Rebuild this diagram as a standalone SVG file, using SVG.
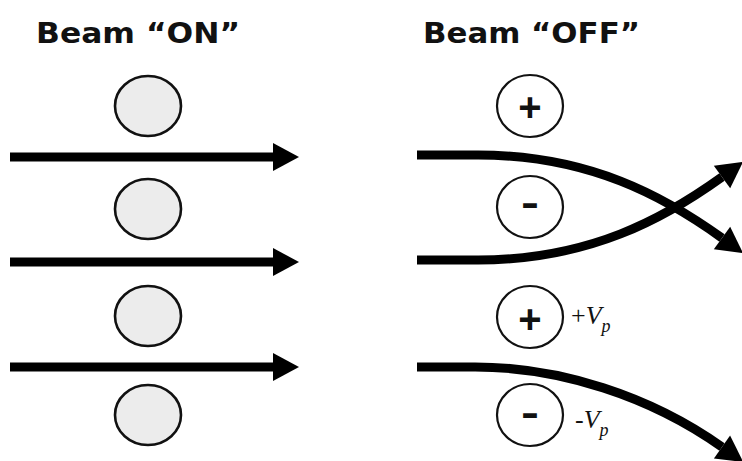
<svg xmlns="http://www.w3.org/2000/svg" width="742" height="461" viewBox="0 0 742 461">
<style>
.title{font-family:"DejaVu Sans","Liberation Sans",sans-serif;font-weight:bold;font-size:29px;fill:#111}
.dis{fill:#ececec;stroke:#111;stroke-width:2.6}
.pol{fill:#fff;stroke:#111;stroke-width:2.2}
.sign{font-family:"Liberation Sans",sans-serif;font-weight:bold;font-size:40px;fill:#111;text-anchor:middle}
.beam{fill:none;stroke:#000;stroke-width:9}
.vp{font-family:"Liberation Serif",serif;font-size:26px;fill:#111}
</style>
<defs>
<marker id="ah" markerUnits="userSpaceOnUse" markerWidth="30" markerHeight="32" refX="0" refY="15" orient="auto" viewBox="0 0 30 30" overflow="visible">
<path d="M0,1 L26,15 L0,29 Z" fill="#000"/>
</marker>
</defs>
<rect width="742" height="461" fill="#fff"/>
<g id="title-on"><text class="title" x="36" y="43" textLength="204" lengthAdjust="spacingAndGlyphs">Beam “ON”</text></g>
<g id="title-off"><text class="title" x="423" y="43" textLength="217" lengthAdjust="spacingAndGlyphs">Beam “OFF”</text></g>
<g id="on-disc-1"><ellipse class="dis" cx="148" cy="106" rx="33" ry="30"/></g>
<g id="on-disc-2"><ellipse class="dis" cx="148" cy="209" rx="33" ry="30"/></g>
<g id="on-disc-3"><ellipse class="dis" cx="148" cy="316" rx="33" ry="30"/></g>
<g id="on-disc-4"><ellipse class="dis" cx="148" cy="415" rx="33" ry="30"/></g>
<g id="off-plus-1"><ellipse class="pol" cx="530" cy="106" rx="33" ry="31"/><text class="sign" x="530" y="121">+</text></g>
<g id="off-minus-1"><ellipse class="pol" cx="530" cy="207" rx="33" ry="31"/><text class="sign" x="521" y="215.5" text-anchor="start" textLength="18" lengthAdjust="spacingAndGlyphs" style="text-anchor:start">-</text></g>
<g id="off-plus-2"><ellipse class="pol" cx="530" cy="317" rx="33" ry="31"/><text class="sign" x="530" y="333">+</text>
<text class="vp" x="571" y="324">+<tspan font-style="italic">V</tspan><tspan font-style="italic" font-size="18" dy="8">p</tspan></text></g>
<g id="off-minus-2"><ellipse class="pol" cx="530" cy="415" rx="33" ry="31"/><text class="sign" x="521" y="425.5" textLength="18" lengthAdjust="spacingAndGlyphs" style="text-anchor:start">-</text>
<text class="vp" x="575" y="428">-<tspan font-style="italic">V</tspan><tspan font-style="italic" font-size="18" dy="8">p</tspan></text></g>
<g id="connectors">
<path class="beam" d="M10,157 L273,157" marker-end="url(#ah)"/>
<path class="beam" d="M10,262 L273,262" marker-end="url(#ah)"/>
<path class="beam" d="M10,367 L273,367" marker-end="url(#ah)"/>
<path class="beam" d="M417,155 L478,155 C590,155 665,197 722,238" marker-end="url(#ah)"/>
<path class="beam" d="M417,260 L478,260 C590,260 665,218 722,177" marker-end="url(#ah)"/>
<path class="beam" d="M417,367 L475,367 C560,367 650,396 722,447" marker-end="url(#ah)"/>
</g>
</svg>
